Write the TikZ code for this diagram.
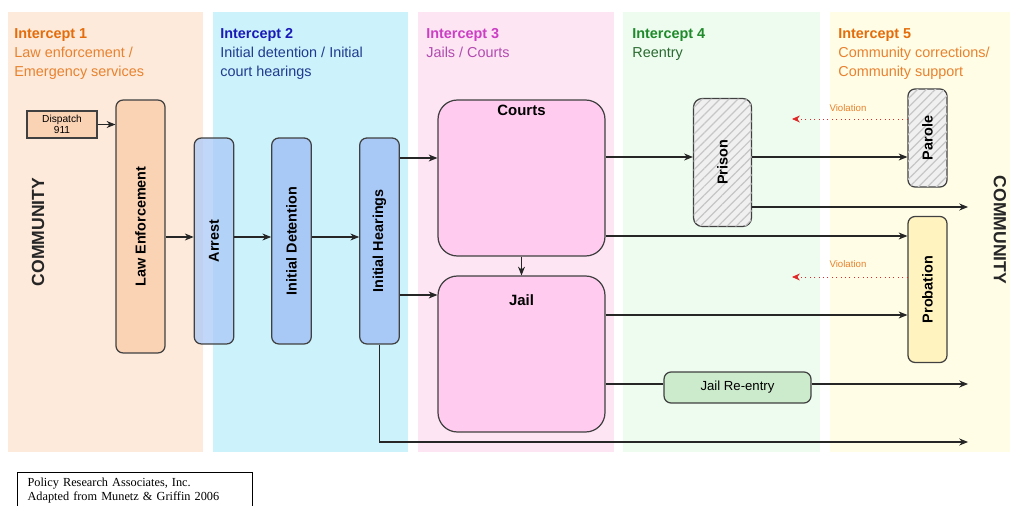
\documentclass[tikz,border=0pt]{standalone}
\usepackage{fontspec}
\setmainfont{Liberation Sans}
\newfontfamily\creditfont{Liberation Serif}
\usepackage{graphicx}
\usetikzlibrary{positioning,patterns.meta,arrows.meta}

\definecolor{bandOne}{HTML}{FDEADB}
\definecolor{bandTwo}{HTML}{CCF3FB}
\definecolor{bandThree}{HTML}{FDE5F3}
\definecolor{bandFour}{HTML}{EDFCEF}
\definecolor{bandFive}{HTML}{FFFDE6}
\definecolor{headOrange}{HTML}{E46C0A}
\definecolor{textOrange}{HTML}{E8822E}
\definecolor{headBlue}{HTML}{1A1AB8}
\definecolor{textBlue}{HTML}{1F3A8F}
\definecolor{headPink}{HTML}{CC3FC4}
\definecolor{textPink}{HTML}{B24AB0}
\definecolor{headGreen}{HTML}{1E8A2A}
\definecolor{textGreen}{HTML}{2A6A30}
\definecolor{peachBox}{HTML}{FAD2B4}
\definecolor{blueBox}{HTML}{A8C8F6}
\definecolor{pinkBox}{HTML}{FFCCF0}
\definecolor{yellowBox}{HTML}{FFF4C0}
\definecolor{greenBox}{HTML}{CCEBCC}
\definecolor{violRed}{HTML}{E02828}

\begin{document}
\begin{tikzpicture}[x=0.02cm,y=-0.02cm]

% definitions
\tikzstyle{header} = [anchor=north west, inner sep=0pt, align=left, font=\fontsize{8.2}{10.8}\selectfont]

\tikzstyle{stage} = [rectangle, rounded corners=4pt, draw=black!75, line width=0.7pt, inner sep=0pt, font=\fontsize{8.2}{9}\selectfont\bfseries]

\tikzstyle{bluestage} = [stage, fill=blueBox, minimum width=0.79cm, minimum height=4.12cm]

\tikzstyle{bigstage} = [stage, fill=pinkBox, rounded corners=11pt, minimum width=3.34cm, minimum height=3.12cm]

\tikzstyle{hatched} = [stage, fill=gray!12, postaction={pattern={Lines[angle=45,distance=3.6pt,line width=0.7pt]}, pattern color=gray!45}]

\tikzstyle{community} = [inner sep=0pt, font=\fontsize{10}{12}\selectfont\bfseries, text=black!85]

\tikzstyle{arrow} = [-{Stealth[length=5pt,width=4pt]}, line width=0.6pt, black!85]

\tikzstyle{violation} = [-{Stealth[length=4.5pt,width=4pt]}, dotted, draw=violRed, line width=0.5pt]

\useasboundingbox (0,0) rectangle (1011,506);

% the bands
\fill [bandOne] (8,12) rectangle (203,452);
\fill [bandTwo] (213,12) rectangle (408,452);
\fill [bandThree] (418,12) rectangle (614,452);
\fill [bandFour] (623,12) rectangle (820,452);
\fill [bandFive] (830,12) rectangle (1010,452);

\node (h1) [header] at (14,28) {\textcolor{headOrange}{\bfseries Intercept 1}\\ \textcolor{textOrange}{Law enforcement /}\\ \textcolor{textOrange}{Emergency services}};
\node (h2) [header] at (220,28) {\textcolor{headBlue}{\bfseries Intercept 2}\\ \textcolor{textBlue}{Initial detention / Initial}\\ \textcolor{textBlue}{court hearings}};
\node (h3) [header] at (426,28) {\textcolor{headPink}{\bfseries Intercept 3}\\ \textcolor{textPink}{Jails / Courts}};
\node (h4) [header] at (632,28) {\textcolor{headGreen}{\bfseries Intercept 4}\\ \textcolor{textGreen}{Reentry}};
\node (h5) [header] at (838,28) {\textcolor{headOrange}{\bfseries Intercept 5}\\ \textcolor{textOrange}{Community corrections/}\\ \textcolor{textOrange}{Community support}};

% the graph
\node (commL) [community] at (38,232) {\rotatebox{90}{COMMUNITY}};
\node (commR) [community] at (1000,230) {\rotatebox{-90}{COMMUNITY}};

\node (dispatch) [rectangle, draw=black!75, line width=0.7pt, fill=peachBox, minimum width=1.4cm, minimum height=0.54cm, inner sep=0pt, align=center, font=\fontsize{5.8}{6.4}\selectfont] at (62,124.5) {Dispatch\\911};

\node (lawenf) [stage, fill=peachBox, minimum width=0.98cm, minimum height=5.06cm] at (140.5,226.5) {\rotatebox{90}{Law Enforcement}};

\node (arrest) [bluestage, fill opacity=0.72, text opacity=1] at (214,241) {\rotatebox{90}{Arrest}};
\node (initdet) [bluestage] at (291.5,241) {\rotatebox{90}{Initial Detention}};
\node (inithear) [bluestage] at (379.5,241) {\rotatebox{90}{Initial Hearings}};

\node (courts) [bigstage, label={[anchor=north, inner sep=0pt, yshift=-3pt, font=\fontsize{8.5}{9}\selectfont\bfseries]north:Courts}] at (521.5,178) {};
\node (jail) [bigstage, label={[anchor=north, inner sep=0pt, yshift=-10.5pt, font=\fontsize{8.5}{9}\selectfont\bfseries]north:Jail}] at (521.5,354) {};

\node (prison) [hatched, rounded corners=5pt, minimum width=1.16cm, minimum height=2.56cm] at (722.5,162.5) {\rotatebox{90}{Prison}};
\node (parole) [hatched, minimum width=0.78cm, minimum height=1.96cm] at (927.5,138) {\rotatebox{90}{Parole}};
\node (probation) [stage, fill=yellowBox, minimum width=0.78cm, minimum height=2.92cm] at (927.5,289.5) {\rotatebox{90}{Probation}};

\node (reentry) [stage, fill=greenBox, font=\fontsize{7.5}{9}\selectfont, minimum width=2.94cm, minimum height=0.62cm] at (737.5,387.5) {Jail Re-entry};

\coordinate (out1) at (968,207);
\coordinate (out2) at (968,384);
\coordinate (out3) at (968,442);
\coordinate (back1) at (792,119);
\coordinate (back2) at (792,277);

\draw [arrow] (dispatch) -- (lawenf.west |- dispatch);
\draw [arrow] (lawenf.east |- 0,237) -- (arrest.west |- 0,237);
\draw [arrow] (arrest.east |- 0,237) -- (initdet.west |- 0,237);
\draw [arrow] (initdet.east |- 0,237) -- (inithear.west |- 0,237);
\draw [arrow] (inithear.east |- 0,158) -- (courts.west |- 0,158);
\draw [arrow] (inithear.east |- 0,295) -- (jail.west |- 0,295);
\draw [arrow] (courts) -- (jail);
\draw [arrow] (courts.east |- 0,157) -- (prison.west |- 0,157);
\draw [arrow] (prison.east |- 0,157) -- (parole.west |- 0,157);
\draw [arrow] (prison.east |- out1) -- (out1);
\draw [arrow] (courts.east |- 0,236) -- (probation.west |- 0,236);
\draw [arrow] (jail.east |- 0,315) -- (probation.west |- 0,315);
\draw [line width=0.6pt, black!85] (jail.east |- out2) -- (reentry.west |- out2);
\draw [arrow] (reentry.east |- out2) -- (out2);
\draw [arrow] (inithear.south) |- (out3);

\draw [violation] (parole.west |- back1) -- (back1);
\draw [violation] (probation.west |- back2) -- (back2);
\node (viol1) [font=\fontsize{5.5}{6}\selectfont, text=textOrange, inner sep=0pt] at (848,108) {Violation};
\node (viol2) [font=\fontsize{5.5}{6}\selectfont, text=textOrange, inner sep=0pt] at (848,264) {Violation};

\node (credits) [draw=black, line width=0.6pt, anchor=north west, align=left, inner xsep=0.2cm, inner ysep=3pt, text width=4.3cm, font=\creditfont\fontsize{7}{8}\selectfont] at (17,472) {Policy Research Associates, Inc.\\ Adapted from Munetz \& Griffin 2006};

\end{tikzpicture}
\end{document}
